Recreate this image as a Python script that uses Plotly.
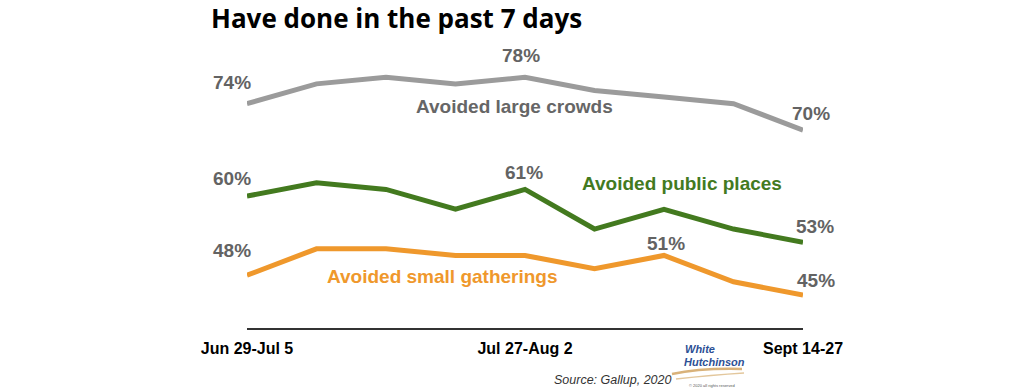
import plotly.graph_objects as go

# ---- data ----
period_index = [0, 1, 2, 3, 4, 5, 6, 7, 8]
tick_positions = [0, 4, 8]
tick_labels = ["Jun 29-Jul 5", "Jul 27-Aug 2", "Sept 14-27"]

large_crowds = [74, 77, 78, 77, 78, 76, 75, 74, 70]
public_places = [60, 62, 61, 58, 61, 55, 58, 55, 53]
small_gatherings = [48, 52, 52, 51, 51, 49, 51, 47, 45]

series_names = ["Avoided large crowds", "Avoided public places", "Avoided small gatherings"]
series_values = [large_crowds, public_places, small_gatherings]
series_colors = ["#9b9b9b", "#437a1f", "#ef982c"]
label_colors = ["#666666", "#437a1f", "#ef982c"]

# which points carry a value label, with (xshift, yshift) in px
value_labels = [
    [(0, -15, 21), (4, -4, 22), (8, 8, 17)],
    [(0, -15, 18), (4, -1, 17), (8, 12, 16)],
    [(0, -15, 25), (6, 2, 12), (8, 13, 15)],
]
# series name label positions (data coordinates)
name_pos = [(3.85, 73.5), (6.26, 61.9), (2.82, 47.8)]

W, H = 1024, 391
ML, MR, MT, MB = 247, 221, 40, 63
PW, PH = W - ML - MR, H - MT - MB


def px(xp):
    return (xp - ML) / PW


def py(yp):
    return (H - MB - yp) / PH


fig = go.Figure()
for name, vals, col in zip(series_names, series_values, series_colors):
    fig.add_trace(go.Scatter(
        x=period_index, y=vals, mode="lines", name=name,
        line=dict(color=col, width=5), hoverinfo="skip"))

ann = []
for s, (vals, labs) in enumerate(zip(series_values, value_labels)):
    for idx, xs, ys in labs:
        ann.append(dict(
            x=period_index[idx], y=vals[idx], xref="x", yref="y",
            text=f"{vals[idx]}%", showarrow=False, xshift=xs, yshift=ys,
            font=dict(family="Liberation Sans", size=19, color="#636363", weight="bold")))
for name, (xx, yy), col in zip(series_names, name_pos, label_colors):
    ann.append(dict(
        x=xx, y=yy, xref="x", yref="y", text=name, showarrow=False,
        font=dict(family="Liberation Sans", size=19, color=col, weight="bold")))

# source + logo text
ann.append(dict(x=px(612), y=py(380), xref="paper", yref="paper",
                text="<i>Source: Gallup, 2020</i>", showarrow=False,
                xanchor="center", yanchor="middle",
                font=dict(family="Liberation Sans", size=12.5, color="#333333")))
ann.append(dict(x=px(683), y=py(349), xref="paper", yref="paper",
                text="<i><b>White</b></i>", showarrow=False,
                xanchor="left", yanchor="middle",
                font=dict(family="Liberation Sans", size=11, color="#2c4f95")))
ann.append(dict(x=px(682), y=py(362), xref="paper", yref="paper",
                text="<i><b>Hutchinson</b></i>", showarrow=False,
                xanchor="left", yanchor="middle",
                font=dict(family="Liberation Sans", size=11, color="#2c4f95")))
ann.append(dict(x=px(712), y=py(385), xref="paper", yref="paper",
                text="© 2020 all rights reserved", showarrow=False,
                xanchor="center", yanchor="middle",
                font=dict(family="Liberation Sans", size=4, color="#555555")))

swoosh1 = f"M {px(672)} {py(374)} Q {px(700)} {py(368)} {px(742)} {py(369)}"
swoosh2 = f"M {px(676)} {py(379)} Q {px(712)} {py(375)} {px(744)} {py(373)}"

fig.update_layout(
    width=W, height=H,
    margin=dict(l=ML, r=MR, t=MT, b=MB),
    paper_bgcolor="white", plot_bgcolor="white",
    showlegend=False,
    title=dict(text="Have done in the past 7 days", x=211 / W, xanchor="left",
               y=1 - 19 / H, yanchor="middle", xref="container", yref="container",
               font=dict(family="Open Sans", size=26, color="#000000", weight="bold")),
    xaxis=dict(range=[0, 8], tickvals=tick_positions, ticktext=tick_labels,
               showgrid=False, zeroline=False, showline=True, linecolor="#333333",
               linewidth=1.5, ticks="", ticklabelstandoff=5,
               tickfont=dict(family="Liberation Sans", size=16, color="#000000", weight="bold"),
               fixedrange=True),
    yaxis=dict(range=[40, 83.65], visible=False, fixedrange=True),
    annotations=ann,
    shapes=[
        dict(type="path", xref="paper", yref="paper", path=swoosh1,
             line=dict(color="#d9b27a", width=2.5)),
        dict(type="path", xref="paper", yref="paper", path=swoosh2,
             line=dict(color="#e3c79c", width=1.5)),
    ],
)

fig.write_html("out.html", config={"displayModeBar": False},
               post_script="document.body.style.margin='0';")
